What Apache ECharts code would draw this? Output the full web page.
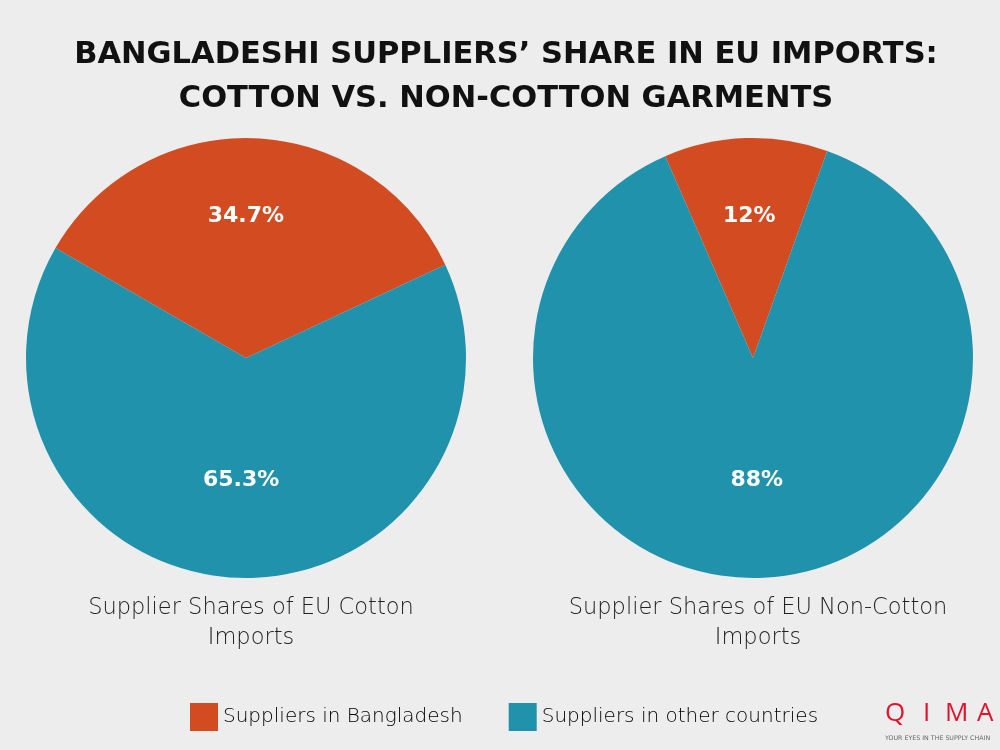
<!DOCTYPE html>
<html>
<head>
<meta charset="utf-8">
<script src="https://cdn.jsdelivr.net/npm/echarts@6/dist/echarts.min.js"></script>
<style>
html,body{margin:0;padding:0;background:#ededed;}
#chart{width:1000px;height:750px;}
</style>
</head>
<body>
<div id="chart"></div>
<script>
const categories = ['Suppliers in Bangladesh', 'Suppliers in other countries'];
const cottonValues = [34.7, 65.3];
const nonCottonValues = [12, 88];
const pieTitles = ['Supplier Shares of EU Cotton\nImports', 'Supplier Shares of EU Non-Cotton\nImports'];
const colors = ['#D34B20', '#2192AB'];
const logoLetters = ['Q', 'I', 'M', 'A'];

const chart = echarts.init(document.getElementById('chart'));

function makeData(values, dx) {
  return values.map((v, i) => ({
    name: categories[i],
    value: v,
    label: { offset: i === 0 ? [dx, -29] : [0, 9] }
  }));
}

function pieSeries(values, cx, startAngle, dx) {
  return {
    type: 'pie',
    center: [cx, 358],
    radius: [0, 220],
    startAngle: startAngle,
    clockwise: true,
    animation: false,
    data: makeData(values, dx),
    label: {
      show: true,
      position: 'inside',
      formatter: p => p.value + '%',
      color: '#fff',
      fontSize: 22,
      fontWeight: 'bold',
      fontFamily: 'DejaVu Sans'
    },
    labelLine: { show: false },
    itemStyle: { borderWidth: 0 },
    emphasis: { disabled: true }
  };
}

const logoX = [885, 923, 945, 977];

chart.setOption({
  backgroundColor: '#ededed',
  color: colors,
  title: [
    {
      text: 'BANGLADESHI SUPPLIERS’ SHARE IN EU IMPORTS:\nCOTTON VS. NON-COTTON GARMENTS',
      left: 501, top: 28, textAlign: 'center',
      textStyle: { fontFamily: 'DejaVu Sans', fontWeight: 'bold', fontSize: 30.5, lineHeight: 44, color: '#111' }
    },
    {
      text: pieTitles[0], left: 246, top: 588, textAlign: 'center',
      textStyle: { fontFamily: 'DejaVu Sans', fontWeight: 200, fontSize: 22.5, lineHeight: 30, color: '#222' }
    },
    {
      text: pieTitles[1], left: 753, top: 588, textAlign: 'center',
      textStyle: { fontFamily: 'DejaVu Sans', fontWeight: 200, fontSize: 22.5, lineHeight: 30, color: '#222' }
    }
  ],
  legend: {
    data: categories,
    left: 185, top: 698,
    itemWidth: 28, itemHeight: 28, itemGap: 46,
    icon: 'rect',
    selectedMode: false,
    textStyle: { fontFamily: 'DejaVu Sans', fontWeight: 200, fontSize: 20, color: '#000' }
  },
  graphic: logoLetters.map((ch, i) => ({
    type: 'text', left: logoX[i], top: 701,
    style: { text: ch, fontFamily: 'Open Sans', fontSize: 26, fill: '#E3122B' }
  })).concat([
    {
      type: 'text', left: 885, top: 735,
      style: { text: 'YOUR EYES IN THE SUPPLY CHAIN', fontFamily: 'DejaVu Sans', fontSize: 6.3, fill: '#666' }
    }
  ]),
  series: [
    pieSeries(cottonValues, 246, 150, -5),
    pieSeries(nonCottonValues, 753, 113.5, 0)
  ]
});
</script>
</body>
</html>
